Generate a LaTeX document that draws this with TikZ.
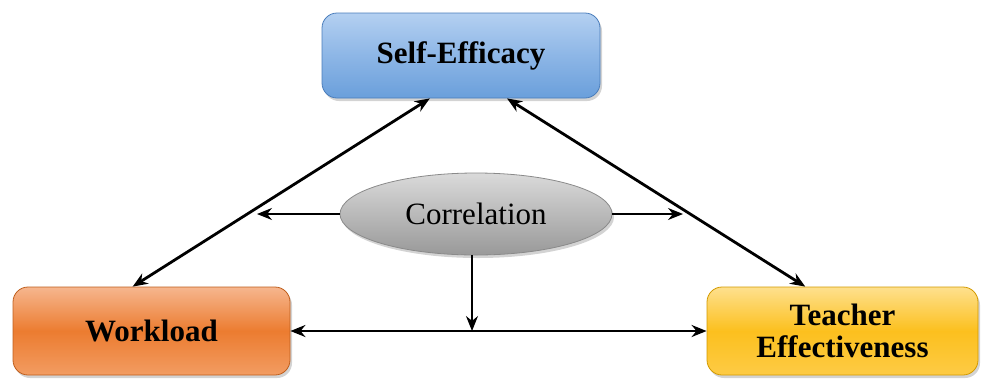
\documentclass[tikz,border=0pt]{standalone}
\usepackage{fontspec}
\setmainfont{Liberation Serif}
\usetikzlibrary{arrows.meta,shapes.geometric,shadows,calc}

\definecolor{seTop}{HTML}{B4D0F1}
\definecolor{seMid}{HTML}{8DB6E6}
\definecolor{seBot}{HTML}{6A9FDB}
\definecolor{seLine}{HTML}{4A7DBB}
\definecolor{wlTop}{HTML}{F6B68E}
\definecolor{wlMid}{HTML}{EC7C30}
\definecolor{wlBot}{HTML}{F29C62}
\definecolor{wlLine}{HTML}{BF5E1C}
\definecolor{teTop}{HTML}{FEE08E}
\definecolor{teMid}{HTML}{FCC01E}
\definecolor{teBot}{HTML}{FDCB45}
\definecolor{teLine}{HTML}{D39A00}
\definecolor{coTop}{HTML}{DADADA}
\definecolor{coBot}{HTML}{999999}
\definecolor{coLine}{HTML}{8A8A8A}

\tikzset{
  concept/.style={rounded corners=15pt, draw, line width=0.8pt,
    font=\fontsize{31}{35}\selectfont\bfseries, align=center,
    inner sep=0pt,
    drop shadow={shadow xshift=2pt, shadow yshift=-3pt, opacity=0.35}},
  bigarrow/.style={line width=2.8pt,
    {Stealth[length=15pt,width=12pt]}-{Stealth[length=15pt,width=12pt]}},
  smallarrow/.style={line width=1.2pt,
    -{Stealth[length=15pt,width=12pt]}}
}

\begin{document}
\begin{tikzpicture}[x=1pt,y=-1pt]
\useasboundingbox (0,0) rectangle (981,378);

% concept boxes
\node[concept, minimum width=278pt, minimum height=85pt, draw=seLine,
      top color=seTop, bottom color=seBot, middle color=seMid]
  (se) at (461,55.5) {Self-Efficacy};
\node[concept, minimum width=277pt, minimum height=88pt, draw=wlLine,
      top color=wlTop, bottom color=wlBot, middle color=wlMid]
  (wl) at (151.5,331) {Workload};
\node[concept, minimum width=271pt, minimum height=88pt, draw=teLine,
      top color=teTop, bottom color=teBot, middle color=teMid]
  (te) at (842.5,331) {Teacher\\[-3pt]Effectiveness};

% correlation ellipse
\node[ellipse, draw=coLine, line width=0.8pt, minimum width=272pt,
      minimum height=82pt, inner sep=0pt,
      top color=coTop, bottom color=coBot,
      font=\fontsize{31}{35}\selectfont,
      drop shadow={shadow xshift=2pt, shadow yshift=-3pt, opacity=0.35}]
  (corr) at (476,214) {Correlation};

% free ends of the correlation arrows
\coordinate (cl) at (257,214);
\coordinate (cr) at (683,214);

% two-way links between the concepts
\draw[bigarrow] (se.234) -- (wl.113);
\draw[bigarrow] (se.317) -- (te.130);
\draw[bigarrow] (wl.east) -- (te.west);

% arrows leaving the correlation ellipse
\draw[smallarrow] (corr.south -| 472,0) -- (472,0 |- wl.east);
\draw[smallarrow] (corr.west) -- (cl);
\draw[smallarrow] (corr.east) -- (cr);
\end{tikzpicture}
\end{document}
